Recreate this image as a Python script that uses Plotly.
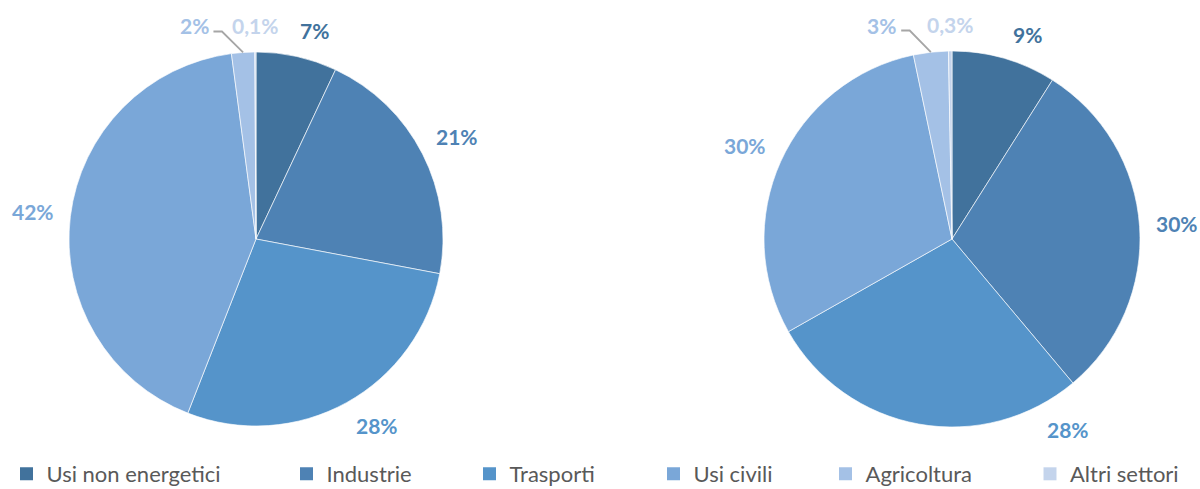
import math
import plotly.graph_objects as go

# ---------------- data ----------------
categories = ["Usi non energetici", "Industrie", "Trasporti", "Usi civili", "Agricoltura", "Altri settori"]
values_left = [7, 21, 28, 42, 2, 0.1]
values_right = [9, 30, 28, 30, 3, 0.3]

# ---------------- style ----------------
colors = ["#41729C", "#4E82B4", "#5594CA", "#7AA7D8", "#A4C1E6", "#C4D4EC"]
W, H = 1200, 489
LABEL_FONT = "Lato"
LABEL_SIZE = 21
LEGEND_FONT = "Lato"
LEGEND_SIZE = 22
LEGEND_COLOR = "#595959"
LEADER_COLOR = "#A6A6A6"
GAP = 16

pies = [
    dict(values=values_left, cx=256, cy=239, r=187, shift={0: 3, 2: -4}, leader=4),
    dict(values=values_right, cx=952, cy=239, r=188, shift={0: 4, 2: -41.5}, leader=4),
]
# legend symbol centres (px) for each entry
legend_px = [26.5, 306.5, 489.5, 673.5, 845.5, 1050]
legend_cy = 474


def fmt(v):
    if v < 1:
        return f"{v:.1f}".replace(".", ",") + "%"
    return f"{v:.0f}%"


def text_w(t):
    w = 0
    for ch in t:
        if ch.isdigit():
            w += 12.2
        elif ch == ",":
            w += 5
        else:
            w += 16.5
    return w


def px(x, y):
    return x / W, 1 - y / H


fig = go.Figure()
annotations = []
shapes = []

for p in pies:
    cx, cy, r = p["cx"], p["cy"], p["r"]
    x0, y1 = px(cx - r, cy - r)
    x1, y0 = px(cx + r, cy + r)
    fig.add_trace(go.Pie(
        labels=categories,
        values=p["values"],
        sort=False,
        direction="clockwise",
        rotation=0,
        marker=dict(colors=colors, line=dict(color="rgba(255,255,255,0.8)", width=0.8)),
        textinfo="none",
        hoverinfo="label+percent",
        showlegend=False,
        domain=dict(x=[x0, x1], y=[y0, y1]),
    ))
    vals = p["values"]
    total = sum(vals)
    cum = 0
    top_y = cy - r - GAP - 10
    for i, v in enumerate(vals):
        mid = (cum + v / 2) / total * 360
        cum += v
        t = fmt(v)
        if i == p["leader"]:
            a = math.radians(mid)
            ex, ey = cx + r * math.sin(a), cy - r * math.cos(a)
            lx, ly = ex - 49, top_y
            sx = lx + text_w(t) / 2 + 5
            path_pts = [px(sx, ly + 5.5), px(sx + 8.5, ly + 5.5), px(ex, ey)]
            path = "M{:.5f},{:.5f} L{:.5f},{:.5f} L{:.5f},{:.5f}".format(
                *path_pts[0], *path_pts[1], *path_pts[2])
            shapes.append(dict(type="path", xref="paper", yref="paper", path=path,
                               line=dict(color=LEADER_COLOR, width=1.8)))
        else:
            a = math.radians(mid + p["shift"].get(i, 0))
            ux, uy = math.sin(a), -math.cos(a)
            hw, hh = text_w(t) / 2, 10
            d = r + GAP + abs(hw * ux) + abs(hh * uy)
            lx, ly = cx + d * ux, cy + d * uy
        ax_, ay_ = px(lx, ly)
        annotations.append(dict(
            x=ax_, y=ay_, xref="paper", yref="paper", text=t, showarrow=False,
            xanchor="center", yanchor="middle",
            font=dict(family=LABEL_FONT, size=LABEL_SIZE, color=colors[i], weight="bold"),
        ))

# legend entries (one legend per entry so the spacing follows the reference)
legend_layouts = {}
for i, (name, c) in enumerate(zip(categories, colors)):
    key = "legend" if i == 0 else f"legend{i + 1}"
    fig.add_trace(go.Scatter(
        x=[None], y=[None], mode="markers", name=name,
        marker=dict(symbol="square", size=13, color=c),
        legend=key, showlegend=True, hoverinfo="skip",
    ))
    lx, ly = px(legend_px[i] - 20, legend_cy)
    legend_layouts[key] = dict(
        x=lx, y=ly, xanchor="left", yanchor="middle", orientation="h",
        bgcolor="rgba(0,0,0,0)", borderwidth=0,
        font=dict(family=LEGEND_FONT, size=LEGEND_SIZE, color=LEGEND_COLOR),
        itemwidth=30,
    )

fig.update_layout(
    width=W, height=H,
    margin=dict(l=0, r=0, t=0, b=0, autoexpand=False),
    paper_bgcolor="white", plot_bgcolor="white",
    xaxis=dict(visible=False), yaxis=dict(visible=False),
    annotations=annotations, shapes=shapes,
    showlegend=True,
    **legend_layouts,
)

fig.write_html("out.html")
